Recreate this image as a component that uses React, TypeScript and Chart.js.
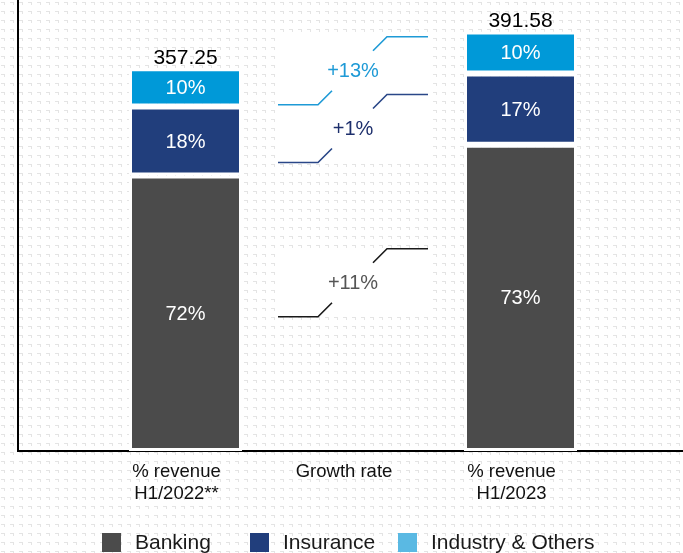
import React, { useEffect, useRef } from 'react';
import { Chart, registerables } from 'chart.js';

Chart.register(...registerables);

// ---- data ----
const categories: (string | string[])[] = ['', ['% revenue', 'H1/2022**'], 'Growth rate', ['% revenue', 'H1/2023'], ''];
const seriesNames = ['Banking', 'Insurance', 'Industry & Others'];
const bankingValues = [null, 257.2, null, 285.9, null];
const insuranceValues = [null, 64.3, null, 66.6, null];
const industryValues = [null, 35.7, null, 39.2, null];
const bankingShare = [null, '72%', null, '73%', null];
const insuranceShare = [null, '18%', null, '17%', null];
const industryShare = [null, '10%', null, '10%', null];
const totalLabels = [null, '357.25', null, '391.58', null];
const growthLabels = ['+13%', '+1%', '+11%'];
const growthLevels = [355, 301, 157];
const growthCategoryIndex = 2;
const yMax = 421;

// ---- styles ----
const FONT = '"Liberation Sans", Arial, Helvetica, sans-serif';
const barColors = ['#4b4b4b', '#213e7c', '#0099d8'];
const legendColors = ['#4b4b4b', '#213e7c', '#5ab9e3'];
const growthTextColors = ['#1e9ad6', '#1d2f6c', '#555555'];
const growthLineColors = ['#1e9ad6', '#2a4788', '#1a1a1a'];

function makePattern(ctx: CanvasRenderingContext2D) {
  const c = document.createElement('canvas');
  c.width = 9;
  c.height = 9;
  const p = c.getContext('2d')!;
  p.fillStyle = '#ffffff';
  p.fillRect(0, 0, 9, 9);
  p.fillStyle = '#e4e4e4';
  p.fillRect(1, 2, 4, 1);
  p.fillRect(4, 2, 1, 3);
  return ctx.createPattern(c, 'repeat');
}

const decorPlugin = {
  id: 'decor',
  beforeDraw(chart: any) {
    const ctx: CanvasRenderingContext2D = chart.ctx;
    ctx.save();
    ctx.fillStyle = '#ffffff';
    ctx.fillRect(0, 0, chart.width, chart.height);
    const pat = makePattern(ctx);
    if (pat) {
      ctx.fillStyle = pat;
      ctx.fillRect(0, 0, chart.width, chart.height);
    }
    ctx.restore();
  },
  afterDatasetsDraw(chart: any) {
    const ctx: CanvasRenderingContext2D = chart.ctx;
    const shares = [bankingShare, insuranceShare, industryShare];
    ctx.save();
    // share labels inside segments
    ctx.textAlign = 'center';
    ctx.textBaseline = 'middle';
    ctx.fillStyle = '#ffffff';
    ctx.font = `20px ${FONT}`;
    chart.data.datasets.forEach((_: any, di: number) => {
      const meta = chart.getDatasetMeta(di);
      meta.data.forEach((el: any, i: number) => {
        const s = shares[di][i];
        if (!s) return;
        const { x, y, base } = el.getProps(['x', 'y', 'base'], true);
        ctx.fillText(s, x, (y + base) / 2 + 1);
      });
    });
    // totals above bars
    const topMeta = chart.getDatasetMeta(chart.data.datasets.length - 1);
    ctx.fillStyle = '#000000';
    ctx.font = `21px ${FONT}`;
    ctx.textBaseline = 'alphabetic';
    topMeta.data.forEach((el: any, i: number) => {
      const t = totalLabels[i];
      if (!t) return;
      const { x, y } = el.getProps(['x', 'y'], true);
      ctx.fillText(t, x, y - 4);
    });
    // growth annotations
    const xs = chart.scales.x;
    const ys = chart.scales.y;
    const gx = xs.getPixelForValue(growthCategoryIndex);
    const gys = growthLevels.map((v) => ys.getPixelForValue(v));
    ctx.fillStyle = '#ffffff';
    gys.forEach((gy) => ctx.fillRect(gx - 75, gy - 34, 150, 68));
    growthLabels.forEach((g, i) => {
      const gy = gys[i];
      ctx.strokeStyle = growthLineColors[i];
      ctx.lineWidth = 1.6;
      ctx.beginPath();
      ctx.moveTo(gx - 75, gy + 34);
      ctx.lineTo(gx - 35, gy + 34);
      ctx.lineTo(gx - 21, gy + 20);
      ctx.moveTo(gx + 20, gy - 20);
      ctx.lineTo(gx + 34, gy - 34);
      ctx.lineTo(gx + 75, gy - 34);
      ctx.stroke();
      ctx.fillStyle = growthTextColors[i];
      ctx.font = `20px ${FONT}`;
      ctx.textAlign = 'center';
      ctx.textBaseline = 'middle';
      ctx.fillText(g, gx, gy + 1);
    });
    ctx.restore();
  },
};

export default function App() {
  const canvasRef = useRef<HTMLCanvasElement | null>(null);

  useEffect(() => {
    if (!canvasRef.current) return;
    const datasetsValues = [bankingValues, insuranceValues, industryValues];
    const chart = new Chart(canvasRef.current, {
      type: 'bar',
      data: {
        labels: categories as any,
        datasets: seriesNames.map((name, i) => ({
          label: name,
          data: datasetsValues[i] as any,
          backgroundColor: barColors[i],
          borderColor: '#ffffff',
          borderWidth: 3,
          borderSkipped: false,
          inflateAmount: 0,
          barThickness: 113,
        })),
      },
      options: {
        animation: false,
        responsive: false,
        maintainAspectRatio: false,
        devicePixelRatio: 1,
        layout: { padding: { left: 18, right: 0, top: 0, bottom: 38 } },
        plugins: {
          legend: { display: false },
          tooltip: { enabled: false },
        },
        scales: {
          x: {
            stacked: true,
            offset: false,
            grid: { display: false, drawTicks: false },
            border: { display: true, color: '#000000', width: 2 },
            ticks: {
              autoSkip: false,
              maxRotation: 0,
              minRotation: 0,
              padding: 10,
              labelOffset: -9,
              color: '#111111',
              font: { family: FONT, size: 18.5, lineHeight: 1.19 },
            },
          },
          y: {
            stacked: true,
            min: 0,
            max: yMax,
            grid: { display: false, drawTicks: false },
            border: { display: true, color: '#000000', width: 2 },
            ticks: { display: false },
          },
        },
      },
      plugins: [decorPlugin],
    } as any);
    return () => chart.destroy();
  }, []);

  return (
    <div style={{ position: 'fixed', left: 0, top: 0, width: 683, height: 553, overflow: 'hidden' }}>
      <canvas ref={canvasRef} width={698} height={553} style={{ display: 'block', width: 698, height: 553 }} />
      <div
        style={{
          position: 'absolute',
          left: 102,
          top: 530,
          display: 'flex',
          font: `21px ${FONT}`,
          color: '#1a1a1a',
          whiteSpace: 'nowrap',
        }}
      >
        {seriesNames.map((n, i) => (
          <div key={n} style={{ width: 148, display: 'flex', alignItems: 'flex-start', flex: 'none' }}>
            <span
              style={{
                width: 19,
                height: 19,
                background: legendColors[i],
                marginTop: 3,
                marginRight: 14,
                flex: 'none',
              }}
            />
            <span style={{ lineHeight: '24px' }}>{n}</span>
          </div>
        ))}
      </div>
    </div>
  );
}
